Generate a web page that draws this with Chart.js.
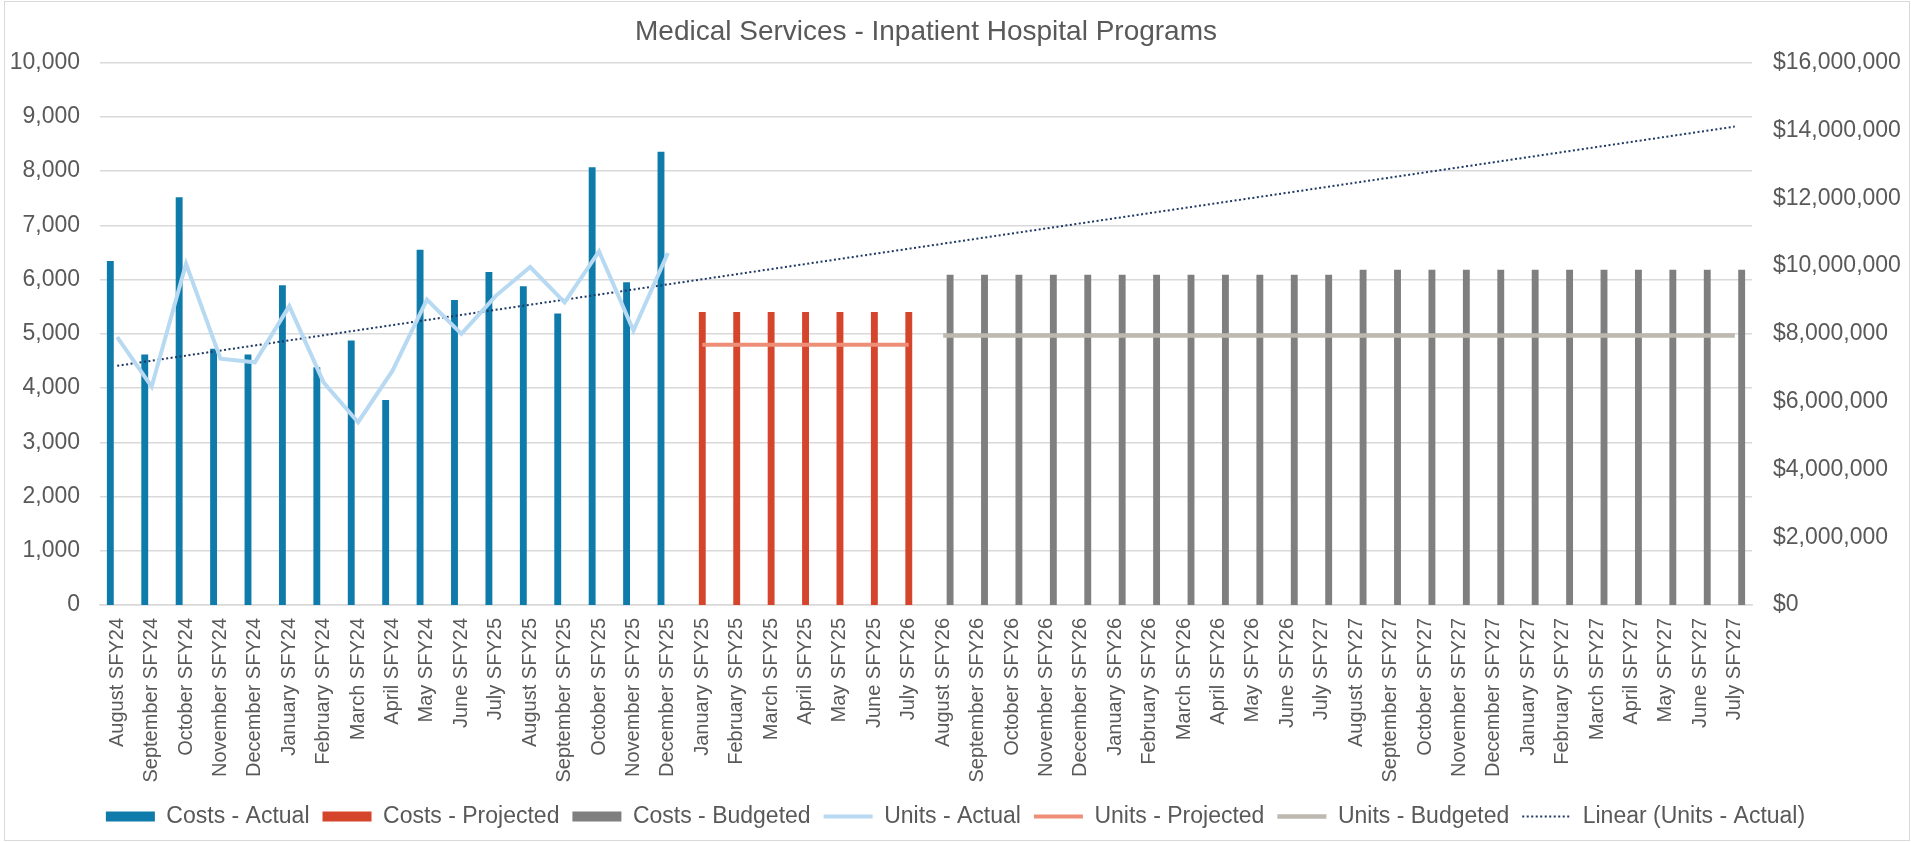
<!DOCTYPE html>
<html>
<head>
<meta charset="utf-8">
<script src="https://cdn.jsdelivr.net/npm/chart.js@4"></script>
<style>
	html, body { margin: 0; padding: 0; background: #fff; }
	#wrap { position: relative; width: 1911px; height: 842px; }
	#frame { position: absolute; left: 4px; top: 1px; width: 1904px; height: 838px; border: 1px solid #d9d9d9; pointer-events: none; }
</style>
</head>
<body>
<div id="wrap">
	<canvas id="chart"></canvas>
	<div id="frame"></div>
</div>
<script>
const months = [
	'August SFY24', 'September SFY24', 'October SFY24', 'November SFY24', 'December SFY24', 'January SFY24',
	'February SFY24', 'March SFY24', 'April SFY24', 'May SFY24', 'June SFY24', 'July SFY25',
	'August SFY25', 'September SFY25', 'October SFY25', 'November SFY25', 'December SFY25',
	'January SFY25', 'February SFY25', 'March SFY25', 'April SFY25', 'May SFY25', 'June SFY25', 'July SFY26',
	'August SFY26', 'September SFY26', 'October SFY26', 'November SFY26', 'December SFY26', 'January SFY26',
	'February SFY26', 'March SFY26', 'April SFY26', 'May SFY26', 'June SFY26', 'July SFY27',
	'August SFY27', 'September SFY27', 'October SFY27', 'November SFY27', 'December SFY27', 'January SFY27',
	'February SFY27', 'March SFY27', 'April SFY27', 'May SFY27', 'June SFY27', 'July SFY27'
];

// costs ($, right axis)
const costsActual = [10150000, 7390000, 12030000, 7560000, 7390000, 9430000, 7010000, 7800000, 6050000,
	10480000, 9000000, 9820000, 9400000, 8600000, 12910000, 9520000, 13370000];
const costsProjected = [8640000, 8640000, 8640000, 8640000, 8640000, 8640000, 8640000];
const costsBudgeted = [9740000, 9740000, 9740000, 9740000, 9740000, 9740000, 9740000, 9740000, 9740000, 9740000, 9740000, 9740000,
	9890000, 9890000, 9890000, 9890000, 9890000, 9890000, 9890000, 9890000, 9890000, 9890000, 9890000, 9890000];

// units (left axis)
const unitsActual = [4940, 4025, 6290, 4540, 4475, 5510, 4100, 3370, 4320, 5630, 5000, 5700, 6230, 5580, 6520, 5060, 6490];
const unitsProjected = [4800, 4800, 4800, 4800, 4800, 4800, 4800];
const unitsBudgeted = [4970, 4970, 4970, 4970, 4970, 4970, 4970, 4970, 4970, 4970, 4970, 4970,
	4970, 4970, 4970, 4970, 4970, 4970, 4970, 4970, 4970, 4970, 4970, 4970];

// linear trend of Units - Actual, read at first and last month
const trendStart = 4410;
const trendEnd = 8820;

const unitTicks = { min: 0, max: 10000, step: 1000 };
const costTicks = { min: 0, max: 16000000, step: 2000000 };

const startProjected = costsActual.length;
const startBudgeted = startProjected + costsProjected.length;

function place(values, offset) {
	const out = months.map(() => null);
	values.forEach((v, i) => { out[offset + i] = v; });
	return out;
}

const trendData = months.map(() => null);
trendData[0] = trendStart;
trendData[months.length - 1] = trendEnd;

const TEXT = '#595959';
const GRID = '#d9d9d9';
Chart.defaults.font.family = '"Liberation Sans", Arial, sans-serif';
Chart.defaults.color = TEXT;

const PLOT_LEFT = 100, PLOT_RIGHT = 1752, PLOT_BOTTOM = 605;

new Chart(document.getElementById('chart'), {
	data: {
		labels: months,
		datasets: [
			{ type: 'bar', label: 'Costs - Actual', data: place(costsActual, 0), yAxisID: 'y1', backgroundColor: '#0f7baa', borderWidth: 0, order: 1 },
			{ type: 'bar', label: 'Costs - Projected', data: place(costsProjected, startProjected), yAxisID: 'y1', backgroundColor: '#d5452b', borderWidth: 0, order: 1 },
			{ type: 'bar', label: 'Costs - Budgeted', data: place(costsBudgeted, startBudgeted), yAxisID: 'y1', backgroundColor: '#7f7f7f', borderWidth: 0, order: 1 },
			{ type: 'line', label: 'Units - Actual', data: place(unitsActual, 0), yAxisID: 'y', borderColor: '#b7d9f2', borderWidth: 4, pointRadius: 0, tension: 0, order: 0 },
			{ type: 'line', label: 'Units - Projected', data: place(unitsProjected, startProjected), yAxisID: 'y', borderColor: '#ee8e77', borderWidth: 4, pointRadius: 0, tension: 0, order: 0 },
			{ type: 'line', label: 'Units - Budgeted', data: place(unitsBudgeted, startBudgeted), yAxisID: 'y', borderColor: '#bdb8b0', borderWidth: 4.5, pointRadius: 0, tension: 0, order: 0 },
			{ type: 'line', label: 'Linear (Units - Actual)', data: trendData, yAxisID: 'y', borderColor: '#1f3864', borderWidth: 2, borderDash: [2, 2.5], pointRadius: 0, spanGaps: true, order: 0 }
		]
	},
	options: {
		responsive: true,
		maintainAspectRatio: false,
		animation: false,
		devicePixelRatio: 1,
		layout: { padding: { left: 0, right: 0, top: 0, bottom: 4 } },
		datasets: { bar: { categoryPercentage: 0.6, barPercentage: 1.0 } },
		plugins: {
			title: {
				display: true,
				fullSize: false,
				text: 'Medical Services - Inpatient Hospital Programs',
				color: TEXT,
				font: { size: 28, weight: 'normal' },
				padding: { top: 15, bottom: 14 }
			},
			legend: {
				position: 'bottom',
				labels: {
					color: TEXT,
					font: { size: 23 },
					usePointStyle: true,
					pointStyleWidth: 49,
					boxWidth: 49,
					boxHeight: 10,
					padding: 13,
					generateLabels(chart) {
						const items = Chart.defaults.plugins.legend.labels.generateLabels(chart);
						items.forEach(it => {
							const ds = chart.data.datasets[it.datasetIndex];
							if (ds.type === 'line') {
								it.pointStyle = 'line';
								it.strokeStyle = ds.borderColor;
								it.lineWidth = ds.borderWidth;
								it.lineDash = ds.borderDash || [];
							} else {
								it.pointStyle = 'rect';
								it.fillStyle = ds.backgroundColor;
								it.lineWidth = 0;
							}
						});
						return items.sort((a, b) => a.datasetIndex - b.datasetIndex);
					}
				}
			},
			tooltip: { enabled: false }
		},
		scales: {
			x: {
				grid: { display: false, drawTicks: false },
				border: { color: GRID, width: 1.5 },
				ticks: { color: TEXT, font: { size: 20 }, minRotation: 90, maxRotation: 90, autoSkip: false, padding: 13 },
				afterFit(s) {
					const legendH = s.chart.legend ? s.chart.legend.height : 46;
					s.height = s.chart.height - 4 - legendH - PLOT_BOTTOM;
				}
			},
			y: {
				position: 'left',
				min: unitTicks.min,
				max: unitTicks.max,
				grid: { color: GRID, lineWidth: 1.5, drawTicks: false },
				border: { display: false },
				ticks: { stepSize: unitTicks.step, color: TEXT, font: { size: 23 }, padding: 20, callback: v => v.toLocaleString('en-US') },
				afterFit(s) { s.width = PLOT_LEFT; }
			},
			y1: {
				position: 'right',
				min: costTicks.min,
				max: costTicks.max,
				grid: { display: false, drawTicks: false },
				border: { display: false },
				ticks: { stepSize: costTicks.step, color: TEXT, font: { size: 23 }, padding: 21, callback: v => '$' + v.toLocaleString('en-US') },
				afterFit(s) { s.width = s.chart.width - PLOT_RIGHT; }
			}
		}
	}
});
</script>
</body>
</html>
